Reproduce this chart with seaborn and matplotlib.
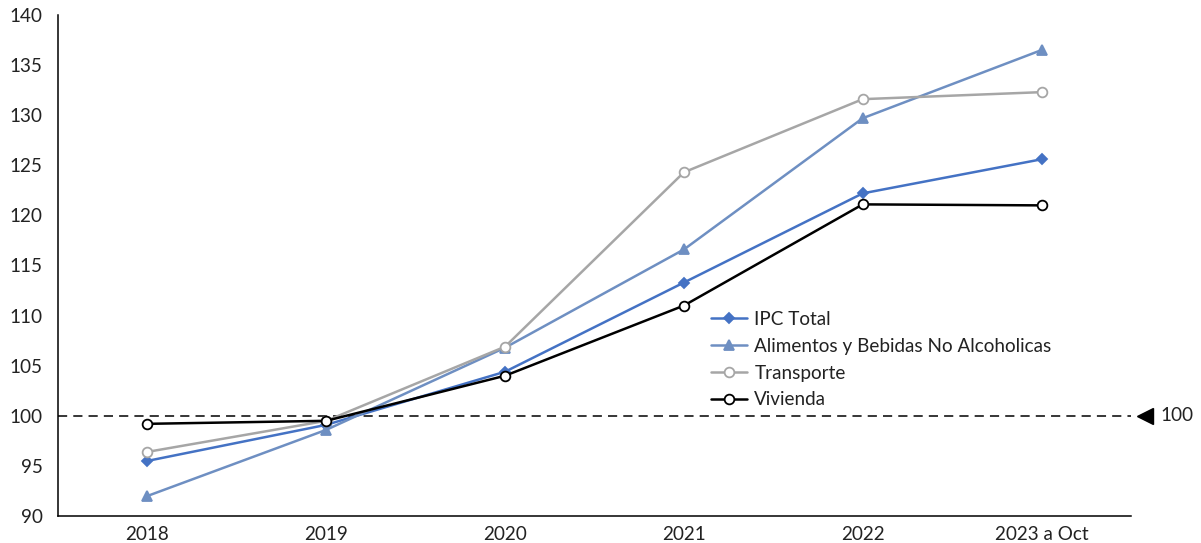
import matplotlib
matplotlib.use("Agg")
import matplotlib.pyplot as plt
import seaborn as sns
import pandas as pd

years = ["2018", "2019", "2020", "2021", "2022", "2023 a Oct"]
ipc_total = [95.5, 99.1, 104.4, 113.3, 122.2, 125.6]
alimentos = [92.0, 98.6, 106.8, 116.6, 129.7, 136.5]
transporte = [96.4, 99.5, 106.9, 124.3, 131.6, 132.3]
vivienda = [99.2, 99.5, 104.0, 111.0, 121.1, 121.0]

series = {
    "IPC Total": ipc_total,
    "Alimentos y Bebidas No Alcoholicas": alimentos,
    "Transporte": transporte,
    "Vivienda": vivienda,
}
styles = {
    "IPC Total": dict(color="#4472C4", marker="D", ms=5.5, mfc="#4472C4"),
    "Alimentos y Bebidas No Alcoholicas": dict(color="#6E8FC2", marker="^", ms=7, mfc="#6E8FC2"),
    "Transporte": dict(color="#A6A6A6", marker="o", ms=7, mfc="white"),
    "Vivienda": dict(color="#000000", marker="o", ms=7, mfc="white"),
}

rows = []
for name, vals in series.items():
    for i, v in enumerate(vals):
        rows.append({"pos": i, "serie": name, "valor": v})
df = pd.DataFrame(rows)

sns.set_style("white")
plt.rcParams["font.family"] = ["Lato", "DejaVu Sans"]

fig = plt.figure(figsize=(12.01, 5.43), dpi=100)
ax = fig.add_axes([0.0483, 0.0497, 0.8934, 0.9227])

for name in series:
    st = styles[name]
    sns.lineplot(data=df[df["serie"] == name], x="pos", y="valor", ax=ax,
                 color=st["color"], marker=st["marker"], markersize=st["ms"],
                 markerfacecolor=st["mfc"], markeredgecolor=st["color"],
                 markeredgewidth=1.3, linewidth=1.8, label=name)

ax.axhline(100, color="black", linestyle=(0, (6, 4)), linewidth=1.1, zorder=0)

ax.set_xlim(-0.5, len(years) - 0.5)
ax.set_ylim(90, 140)
ax.set_yticks(range(90, 141, 5))
ax.set_xticks(range(len(years)))
ax.set_xticklabels(years)
ax.set_xlabel("")
ax.set_ylabel("")
ax.tick_params(axis="both", labelsize=13.6, colors="#222222")
ax.tick_params(axis="y", direction="out", length=5, width=1, color="black", pad=6)
ax.tick_params(axis="x", length=0, pad=7)

for s in ["top", "right"]:
    ax.spines[s].set_visible(False)
for s in ["left", "bottom"]:
    ax.spines[s].set_color("black")
    ax.spines[s].set_linewidth(1.1)

# reference marker for base 100 outside the plot area
ax.plot([1.0135], [100], marker="<", color="black", markersize=11,
        transform=ax.get_yaxis_transform(), clip_on=False)
ax.text(1.0275, 100, "100", transform=ax.get_yaxis_transform(),
        va="center", ha="left", fontsize=13.6, color="#222222")

leg = ax.legend(loc="upper left", bbox_to_anchor=(0.598, 0.432), frameon=False,
                fontsize=13.6, handlelength=1.9, labelspacing=0.52,
                handletextpad=0.4, borderaxespad=0.2)
for t in leg.get_texts():
    t.set_color("#222222")

fig.savefig("out.png", dpi=100)
